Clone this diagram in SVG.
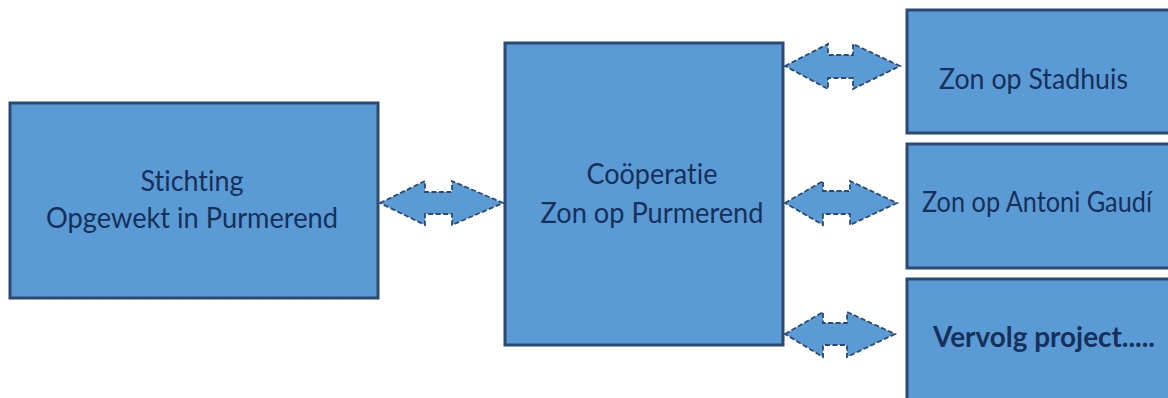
<svg xmlns="http://www.w3.org/2000/svg" width="1168" height="398" viewBox="0 0 1168 398">
<defs>
<style>
.box{fill:#5b9bd5;stroke:#2b4a73;stroke-width:3}
.arr{fill:#5b9bd5;stroke:#2b4a73;stroke-width:1.8;stroke-dasharray:5 2.5;stroke-linejoin:miter}
.t{font-family:Lato,"Open Sans","Liberation Sans",sans-serif;font-size:28px;fill:#17305a;font-variant-ligatures:none;font-feature-settings:"liga" 0}
.b{font-weight:bold}
</style>
</defs>
<rect width="1168" height="398" fill="#ffffff"/>
<g id="connectors">
<polygon class="arr" points="380,203 425,181 425,192 452,192 452,181 503,203 452,225 452,214 425,214 425,225"/>
<polygon class="arr" points="785,66 828,44 828,55 853,55 853,44 900,66 853,89 853,78 828,78 828,89"/>
<polygon class="arr" points="785,203 823,181 823,191 850,191 850,181 897,203 850,225 850,214 823,214 823,225"/>
<polygon class="arr" points="785,334 823,312 823,323 847,323 847,312 895,334 847,357 847,345 823,345 823,357"/>
</g>
<g id="stichting">
<rect class="box" x="10" y="103" width="368" height="195"/>
<text class="t" x="192" y="191" text-anchor="middle" textLength="103" lengthAdjust="spacingAndGlyphs">Stichting</text>
<text class="t" x="192" y="228" text-anchor="middle" textLength="292" lengthAdjust="spacingAndGlyphs">Opgewekt in Purmerend</text>
</g>
<g id="cooperatie">
<rect class="box" x="505" y="43" width="278" height="302"/>
<text class="t" x="652" y="184" text-anchor="middle" textLength="131" lengthAdjust="spacingAndGlyphs">Coöperatie</text>
<text class="t" x="652" y="223" text-anchor="middle" textLength="223" lengthAdjust="spacingAndGlyphs">Zon op Purmerend</text>
</g>
<g id="stadhuis">
<rect class="box" x="907" y="10" width="270" height="123"/>
<text class="t" x="939" y="89" textLength="189" lengthAdjust="spacingAndGlyphs">Zon op Stadhuis</text>
</g>
<g id="gaudi">
<rect class="box" x="907" y="144" width="270" height="124"/>
<text class="t" x="922" y="212" textLength="230" lengthAdjust="spacingAndGlyphs">Zon op Antoni Gaudí</text>
</g>
<g id="vervolg">
<rect class="box" x="907" y="279" width="270" height="130"/>
<text class="t b" x="933" y="347" textLength="222" lengthAdjust="spacingAndGlyphs">Vervolg project.....</text>
</g>
</svg>
